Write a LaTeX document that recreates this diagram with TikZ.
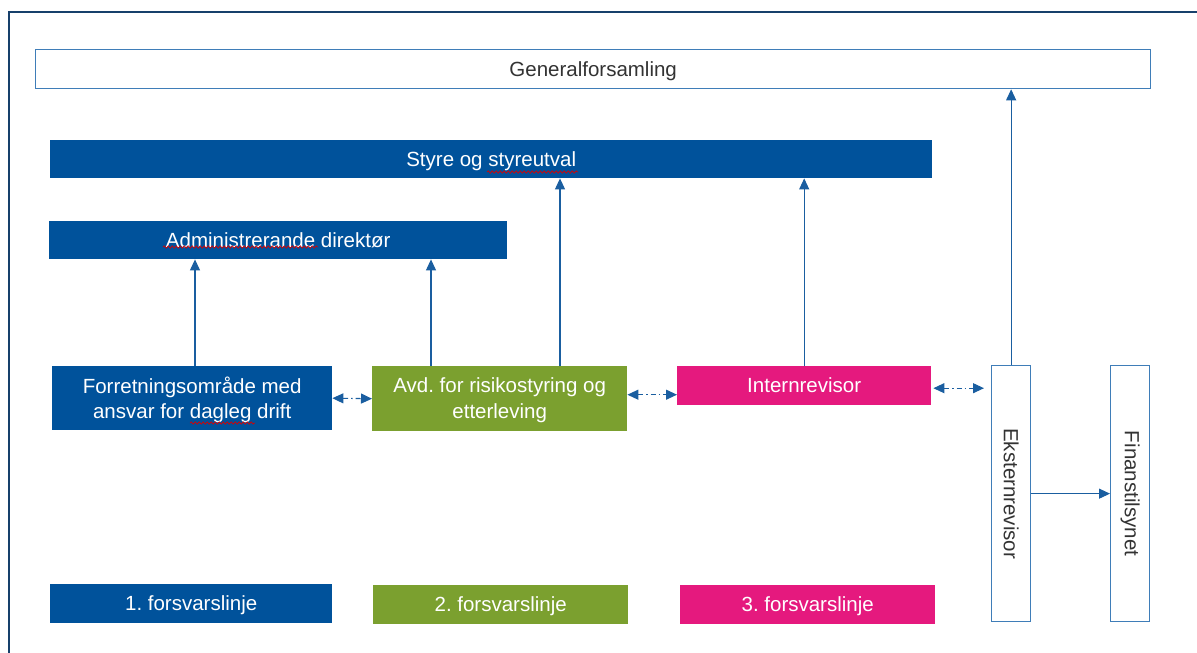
\documentclass[tikz,border=0pt]{standalone}
\usepackage{fontspec}
\setmainfont{Liberation Sans}
\frenchspacing
\usetikzlibrary{arrows.meta,decorations.pathmorphing}
\definecolor{Bc}{HTML}{00529B}
\definecolor{Gc}{HTML}{7BA02F}
\definecolor{Mc}{HTML}{E5197E}
\definecolor{Ec}{HTML}{3F7DB8}
\definecolor{Ac}{HTML}{1A5EA0}
\definecolor{Fc}{HTML}{17406B}
\tikzset{
  box/.style={anchor=north west, inner sep=0pt, align=center, font=\fontsize{20.5}{25.5}\selectfont},
  Bbox/.style={box, text depth=1pt, fill=Bc, text=white},
  Gbox/.style={box, text depth=1pt, fill=Gc, text=white},
  Mbox/.style={box, text depth=1pt, fill=Mc, text=white},
  Vbox/.style={box, draw=Ec, line width=1.3pt, fill=white, text=black!80},
  Wbox/.style={Vbox, text depth=1pt},
  link/.style={-{Triangle[length=11pt,width=10pt]}, Ac, line width=1.1pt},
  both/.style={{Triangle[length=11pt,width=10pt]}-{Triangle[length=11pt,width=10pt]}, Ac, line width=1.1pt, dash pattern=on 5pt off 3pt on 1.5pt off 3pt},
  squig/.style={red!85!black, line width=0.7pt, decorate, decoration={snake, amplitude=1.1pt, segment length=4pt}},
}

\begin{document}
\begin{tikzpicture}[x=1pt, y=-1pt]
  \useasboundingbox (0,0) rectangle (1197,653);
  \draw[Fc, line width=2.2pt] (9,653) -- (9,12) -- (1197,12);
  % top levels
  \node[Wbox, minimum width=1115pt, minimum height=39pt] (gen) at (35,49) {Generalforsamling};
  \node[Bbox, minimum width=882pt, minimum height=38pt] (styre) at (50,140) {Styre og styreutval};
  \node[Bbox, minimum width=458pt, minimum height=38pt] (admin) at (49,221) {Administrerande direktør};
  % middle row
  \node[Bbox, minimum width=280pt, minimum height=64pt] (forr) at (52,366) {Forretningsområde med\\ansvar for dagleg drift};
  \node[Gbox, minimum width=255pt, minimum height=65pt] (avd) at (372,366) {Avd. for risikostyring og\\etterleving};
  \node[Mbox, minimum width=254pt, minimum height=39pt] (intern) at (677,366) {Internrevisor};
  \node[Vbox, minimum width=39pt, minimum height=256pt] (ekst) at (991,365) {\rotatebox{-90}{Eksternrevisor}};
  \node[Vbox, minimum width=39pt, minimum height=256pt] (finan) at (1110,365) {\rotatebox{-90}{Finanstilsynet}};
  % lines of defence
  \node[Bbox, minimum width=282pt, minimum height=39pt] (line1) at (50,584) {1. forsvarslinje};
  \node[Gbox, minimum width=255pt, minimum height=39pt] (line2) at (373,585) {2. forsvarslinje};
  \node[Mbox, minimum width=255pt, minimum height=39pt] (line3) at (680,585) {3. forsvarslinje};
  % reporting lines
  \coordinate (a1) at (195,366);
  \coordinate (a2) at (431,366);
  \coordinate (a3) at (560,366);
  \draw[link] (a1) -- (a1 |- admin.south);
  \draw[link] (a2) -- (a2 |- admin.south);
  \draw[link] (a3) -- (a3 |- styre.south);
  \draw[link] (intern.north) -- (intern.north |- styre.south);
  \draw[link] (ekst.north) -- (ekst.north |- gen.south);
  \draw[link] (ekst.east) -- (finan.west);
  % cooperation
  \draw[both] (forr.east) -- (avd.west);
  \draw[both] ([yshift=4pt]avd.east) -- ([yshift=4pt]avd.east -| intern.west);
  \draw[both, shorten <=2pt, shorten >=7pt] ([yshift=-2.5pt]intern.east) -- ([yshift=-2.5pt]intern.east -| ekst.west);
  % spelling marks
  \draw[squig] (487,172) -- (578,172);
  \draw[squig] (163,247) -- (318,247);
  \draw[squig] (190,423) -- (255,423);
\end{tikzpicture}
\end{document}
